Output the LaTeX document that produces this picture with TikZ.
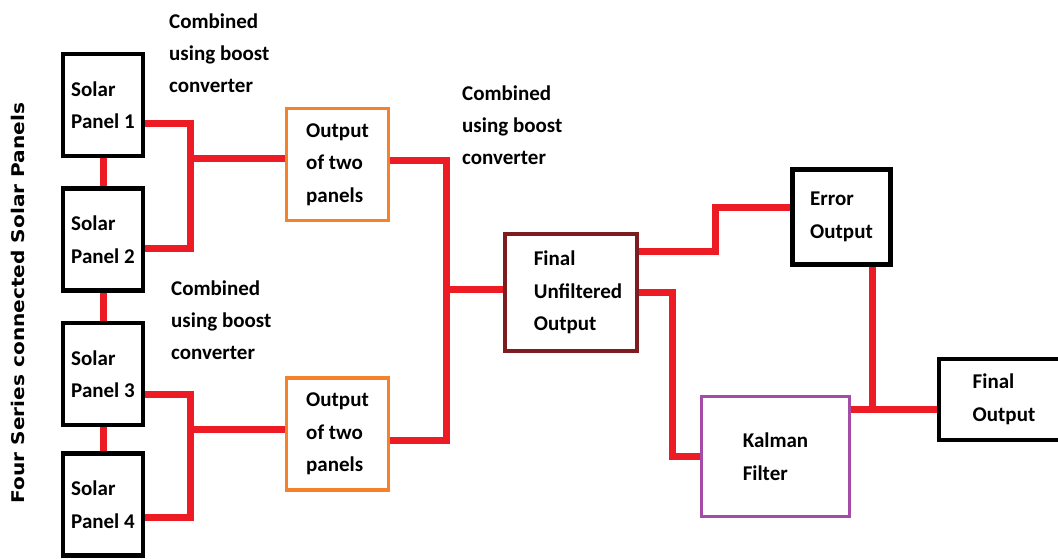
\documentclass[tikz,border=0pt]{standalone}
\usepackage{fontspec}
\setmainfont{Carlito}
\newfontfamily\sidefont{DejaVu Sans}
\usepackage{graphicx}
\usepackage{tikz}
\usetikzlibrary{positioning}
\definecolor{WireRed}{HTML}{ED1C24}
\definecolor{PairOrange}{HTML}{F5822A}
\definecolor{RawMaroon}{HTML}{7E1C20}
\definecolor{KalmanPurple}{HTML}{A54CA6}
\tikzset{
  block/.style={rectangle, align=left, inner sep=0pt,
    font=\bfseries\fontsize{21}{32.5}\selectfont},
  panel/.style={block, draw=black, line width=4.5pt,
    minimum width=80pt, minimum height=102pt},
  pairbox/.style={block, draw=PairOrange, line width=3.5pt,
    minimum width=102pt, minimum height=112pt},
  wire/.style={draw=WireRed, line width=7pt},
  combine/.style={align=left, inner sep=0pt, anchor=west,
    font=\bfseries\fontsize{21}{32}\selectfont}
}
\begin{document}
\begin{tikzpicture}[x=1pt, y=-1pt]
  \path[fill=white] (0,0) rectangle (1058,559);
  \useasboundingbox (0,0) rectangle (1058,559);

  \node[panel] (P1) at (103,105) {Solar\\Panel 1};
  \node[panel, below=28pt of P1] (P2) {Solar\\Panel 2};
  \node[panel, below=28pt of P2] (P3) {Solar\\Panel 3};
  \node[panel, below=24pt of P3] (P4) {Solar\\Panel 4};
  \node[pairbox] (O1) at (337.5,164.5) {Output\\of two\\panels};
  \node[pairbox] (O2) at (337.5,434) {Output\\of two\\panels};
  \node[block, draw=RawMaroon, line width=4pt, minimum width=132pt,
    minimum height=117pt] (FU) at (571,292.5) {\hspace*{14pt}Final\\\hspace*{14pt}Unfiltered\\\hspace*{14pt}Output};
  \node[block, draw=black, line width=4.5pt, minimum width=98pt,
    minimum height=95pt] (Err) at (841.5,217) {Error\\Output};
  \node[block, draw=KalmanPurple, line width=3.5pt, minimum width=148pt,
    minimum height=120pt] (Kal) at (775.5,456.5) {Kalman\\Filter};
  \node[block, draw=black, line width=4.5pt, minimum width=130pt,
    minimum height=81pt] (Fin) at (1004,399.5) {Final\\Output};

  \node[combine] (C1) at (169,53) {Combined\\using boost\\converter};
  \node[combine] (C2) at (171,320) {Combined\\using boost\\converter};
  \node[combine] (C3) at (462,125) {Combined\\using boost\\converter};
  \node[rotate=90, inner sep=0pt, font=\sidefont\bfseries\fontsize{17.5}{20}\selectfont]
    (side) at (18,303) {\scalebox{1.15}[1]{Four Series connected Solar Panels}};

  \coordinate (j1) at (190,159);
  \coordinate (j2) at (190,429);
  \coordinate (j3) at (446,289);
  \coordinate (j4) at (872,409);

  \draw[wire] (P1) -- (P2);
  \draw[wire] (P2) -- (P3);
  \draw[wire] (P3) -- (P4);
  \draw[wire] ([yshift=-19pt]P1.east) -| (j1) |- ([yshift=-9pt]P2.east);
  \draw[wire] (j1) -- (j1 -| O1.west);
  \draw[wire] ([yshift=-20pt]P3.east) -| (j2) |- ([yshift=-13pt]P4.east);
  \draw[wire] (j2) -- (j2 -| O2.west);
  \draw[wire] ([yshift=4pt]O1.east) -| (j3) |- ([yshift=-6pt]O2.east);
  \draw[wire] (j3) -- (j3 -| FU.west);
  \draw[wire] ([yshift=41pt]FU.east) -- ++(76,0) |- ([yshift=10pt]Err.west);
  \draw[wire] (FU.east) -- ++(33,0) |- (Kal.west);
  \draw[wire] (j4 |- Err.south) -- (j4);
  \draw[wire] (j4 -| Kal.east) -- (j4 -| Fin.west);
\end{tikzpicture}
\end{document}
